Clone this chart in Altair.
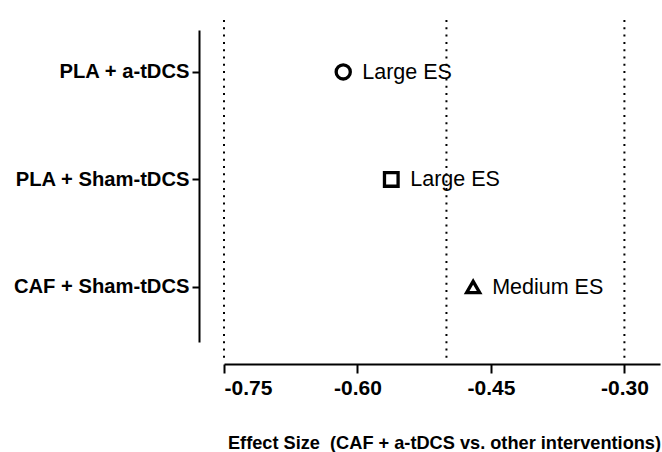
import altair as alt
import pandas as pd

# Data
categories = ["PLA + a-tDCS", "PLA + Sham-tDCS", "CAF + Sham-tDCS"]
effect_sizes = [-0.616, -0.562, -0.470]
es_labels = ["Large ES", "Large ES", "Medium ES"]
marker_shapes = ["circle", "square", "triangle-up"]
reference_lines = [-0.75, -0.50, -0.30]
x_ticks = [-0.75, -0.60, -0.45, -0.30]
x_tick_labels = ["-0.75", "-0.60", "-0.45", "-0.30"]
x_title = "Effect Size\u00a0\u00a0(CAF + a-tDCS vs. other interventions)"

n = len(categories)
df = pd.DataFrame({
    "group": categories,
    "pos": [n - i for i in range(n)],
    "es": effect_sizes,
    "label": es_labels,
    "shape": marker_shapes,
})
ref_df = pd.DataFrame({"ref": reference_lines})

FONT = "Liberation Sans"

y_label_expr = " : ".join(
    [f"datum.value == {n - i} ? '{c}'" for i, c in enumerate(categories)]
) + " : ''"
x_label_expr = " : ".join(
    [f"datum.value == {v} ? '{l}'" for v, l in zip(x_ticks, x_tick_labels)]
) + " : ''"

x_scale = alt.Scale(domain=[-0.75, -0.26], nice=False, zero=False)
y_scale = alt.Scale(domain=[0.488, 3.39], nice=False, zero=False)

x_axis = alt.Axis(
    values=x_ticks, labelExpr=x_label_expr, title=x_title,
    grid=False, domainColor="black", domainWidth=2,
    tickColor="black", tickWidth=2, tickSize=9,
    labelFont=FONT, labelFontSize=21, labelFontWeight="bold", labelColor="black",
    labelPadding=4, offset=22,
    titleFont=FONT, titleFontSize=18.2, titleFontWeight="bold", titleColor="black",
    titleBaseline="alphabetic", titleY=84, titleX=220,
)
y_axis = alt.Axis(
    values=list(range(1, n + 1)), labelExpr=y_label_expr, title=None,
    grid=False, domainColor="black", domainWidth=2,
    tickColor="black", tickWidth=2, tickSize=7,
    labelFont=FONT, labelFontSize=20.2, labelFontWeight="bold", labelColor="black",
    labelPadding=3, offset=25,
)

rules = alt.Chart(ref_df).mark_rule(
    color="black", strokeWidth=2, strokeDash=[2, 5.3]
).encode(
    x=alt.X("ref:Q", scale=x_scale, axis=x_axis),
    y=alt.value(-10),
    y2=alt.value(328),
)

points = alt.Chart(df).mark_point(
    filled=False, color="black", strokeWidth=3.3, opacity=1
).encode(
    x=alt.X("es:Q", scale=x_scale),
    y=alt.Y("pos:Q", scale=y_scale, axis=y_axis),
    shape=alt.Shape("shape:N", scale=None),
    size=alt.Size("shape:N", scale=alt.Scale(domain=["circle", "square", "triangle-up"],
                                             range=[200, 170, 250]), legend=None),
)

texts = alt.Chart(df).mark_text(
    align="left", baseline="middle", dx=19, dy=1, font=FONT, fontSize=21.5, color="black"
).encode(
    x=alt.X("es:Q", scale=x_scale),
    y=alt.Y("pos:Q", scale=y_scale),
    text="label:N",
)

chart = alt.layer(rules, points, texts).properties(
    width=436, height=312,
    autosize=alt.AutoSizeParams(type="none"),
    padding={"left": 224, "top": 30, "right": 2, "bottom": 110},
    background="white",
).configure_view(stroke=None)

chart.save("out.html", embed_options={"renderer": "svg", "actions": False})
